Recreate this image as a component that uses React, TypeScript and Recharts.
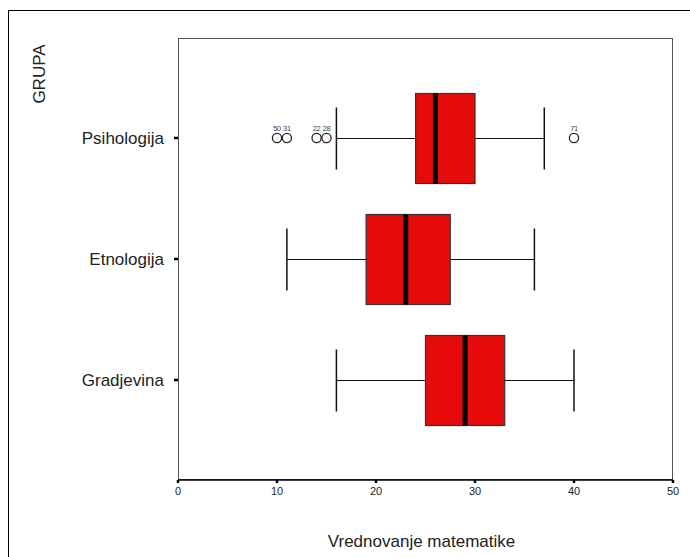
import React from 'react';
import { ComposedChart, Bar, XAxis, YAxis, Scatter } from 'recharts';

const groups = ['Psihologija', 'Etnologija', 'Gradjevina'];
const whiskerLow = [16, 11, 16];
const q1 = [24, 19, 25];
const median = [26, 23, 29];
const q3 = [30, 27.5, 33];
const whiskerHigh = [37, 36, 40];

const outlierGroups = ['Psihologija', 'Psihologija', 'Psihologija', 'Psihologija', 'Psihologija'];
const outlierValues = [10, 11, 14, 15, 40];
const outlierLabels = ['50', '31', '22', '28', '71'];

const xTicks = [0, 10, 20, 30, 40, 50];

const data = groups.map((g, i) => ({
  name: g,
  base: whiskerLow[i],
  lowW: q1[i] - whiskerLow[i],
  boxA: median[i] - q1[i],
  boxB: q3[i] - median[i],
  highW: whiskerHigh[i] - q3[i],
}));

const outliers = outlierValues.map((v, i) => ({
  name: outlierGroups[i],
  v,
  label: outlierLabels[i],
}));

const FONT = '"Liberation Sans", Arial, sans-serif';
const RED = '#E60A0A';
const CAP = 31;

const LowWhisker = (p: any) => {
  const { x, y, width, height } = p;
  const cy = y + height / 2;
  return (
    <g>
      <line x1={x} x2={x + width} y1={cy} y2={cy} stroke="#111" strokeWidth={1.2} />
      <line x1={x} x2={x} y1={cy - CAP} y2={cy + CAP} stroke="#111" strokeWidth={1.5} />
    </g>
  );
};

const HighWhisker = (p: any) => {
  const { x, y, width, height } = p;
  const cy = y + height / 2;
  return (
    <g>
      <line x1={x} x2={x + width} y1={cy} y2={cy} stroke="#111" strokeWidth={1.2} />
      <line x1={x + width} x2={x + width} y1={cy - CAP} y2={cy + CAP} stroke="#111" strokeWidth={1.5} />
    </g>
  );
};

const BoxA = (p: any) => {
  const { x, y, width, height } = p;
  return <rect x={x} y={y} width={width} height={height} fill={RED} stroke="#333" strokeWidth={1.2} />;
};

const BoxB = (p: any) => {
  const { x, y, width, height } = p;
  return (
    <g>
      <rect x={x} y={y} width={width} height={height} fill={RED} stroke="#333" strokeWidth={1.2} />
      <line x1={x} x2={x} y1={y} y2={y + height} stroke="#000" strokeWidth={5} />
    </g>
  );
};

const OutlierShape = (p: any) => {
  const { cx, cy, payload } = p;
  return (
    <g>
      <circle cx={cx} cy={cy} r={4.6} fill="#fff" stroke="#222" strokeWidth={1.3} />
      <text x={cx} y={cy - 7.5} fontSize={7.5} fill="#444" textAnchor="middle" fontFamily={FONT} letterSpacing={-0.3}>
        {payload.label}
      </text>
    </g>
  );
};

export default function App() {
  return (
    <div style={{ position: 'absolute', left: 0, top: 0, width: 690, height: 557, overflow: 'hidden', background: '#fff', fontFamily: FONT }}>
      <div style={{ position: 'absolute', left: 8, top: 10, width: 800, height: 700, borderLeft: '1px solid #000', borderTop: '1px solid #000' }} />
      <div style={{ position: 'absolute', left: 178, top: 38, width: 495, height: 442, boxSizing: 'border-box', border: '1px solid #555' }} />
      <div
        style={{
          position: 'absolute',
          left: 40,
          top: 74,
          transform: 'translate(-50%, -50%) rotate(-90deg)',
          fontSize: 17,
          color: '#222',
          whiteSpace: 'nowrap',
        }}
      >
        GRUPA
      </div>
      <div style={{ position: 'absolute', left: 0, top: 0 }}>
        <ComposedChart
          width={690}
          height={557}
          layout="vertical"
          data={data}
          margin={{ top: 38, right: 17, bottom: 47, left: 0 }}
        >
          <XAxis
            type="number"
            domain={[0, 50]}
            ticks={xTicks}
            interval={0}
            height={30}
            axisLine={{ stroke: '#000', strokeWidth: 1.5 }}
            tickLine={{ stroke: '#000', strokeWidth: 2.5 }}
            tickSize={3}
            tickMargin={4}
            tick={{ fontSize: 11, fill: '#222', fontFamily: FONT }}
            label={{ value: 'Vrednovanje matematike', position: 'bottom', offset: 25, fontSize: 17, fill: '#222', fontFamily: FONT, dx: -4 }}
          />
          <YAxis
            type="category"
            dataKey="name"
            allowDuplicatedCategory={false}
            width={178}
            padding={{ top: 39.5, bottom: 39.5 }}
            axisLine={false}
            tickLine={{ stroke: '#000', strokeWidth: 2.5 }}
            tickSize={4}
            tickMargin={10}
            tick={{ fontSize: 17, fill: '#222', fontFamily: FONT }}
          />
          <Bar dataKey="base" stackId="a" fill="transparent" barSize={90} isAnimationActive={false} shape={() => <g />} />
          <Bar dataKey="lowW" stackId="a" barSize={90} isAnimationActive={false} shape={LowWhisker} />
          <Bar dataKey="boxA" stackId="a" barSize={90} isAnimationActive={false} shape={BoxA} />
          <Bar dataKey="boxB" stackId="a" barSize={90} isAnimationActive={false} shape={BoxB} />
          <Bar dataKey="highW" stackId="a" barSize={90} isAnimationActive={false} shape={HighWhisker} />
          <Scatter data={outliers} dataKey="v" isAnimationActive={false} shape={OutlierShape} />
        </ComposedChart>
      </div>
    </div>
  );
}
